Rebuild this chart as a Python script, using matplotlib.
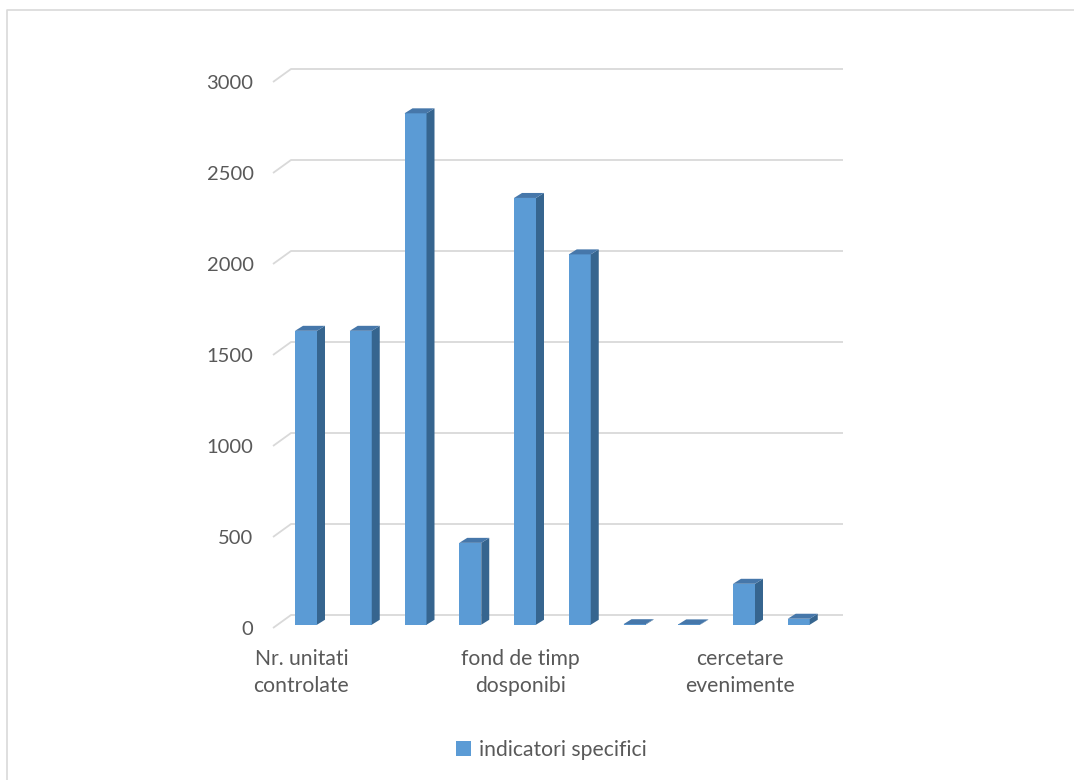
import matplotlib
matplotlib.use("Agg")
import matplotlib.pyplot as plt
from matplotlib.patches import Polygon, Patch
from matplotlib.lines import Line2D

# valori (coloane 3D, o singura serie)
values = [1615, 1615, 2810, 450, 2345, 2035, 3, 2, 225, 33]
cat_labels = ["Nr. unitati\ncontrolate", "fond de timp\ndosponibi", "cercetare\nevenimente"]
cat_label_idx = [0, 4, 8]     # Excel afiseaza doar fiecare a 4-a eticheta
y_ticks = [0, 500, 1000, 1500, 2000, 2500, 3000]
series_name = "indicatori specifici"

FRONT = "#5b9bd5"
SIDE = "#36658f"
TOP = "#4677aa"
GRID = "#d9d9d9"
TEXT = "#595959"
FONT = "Lato"

W, H = 1074, 780
fig = plt.figure(figsize=(W / 100, H / 100), dpi=100)
fig.patch.set_facecolor("white")

# axa in pixeli: stanga 273, dreapta 845, jos 628, sus 66
ax = fig.add_axes([273 / W, 1 - 628 / H, (845 - 273) / W, (628 - 66) / H])
ax.set_facecolor("none")
for s in ax.spines.values():
    s.set_visible(False)

px_x = 54.75          # pixeli per categorie
px_y = 546 / 3000     # pixeli per unitate
cat0 = 301.5          # pozitia primei categorii (px)
x0 = (273 - cat0) / px_x
ax.set_xlim(x0, x0 + (845 - 273) / px_x)
ax.set_ylim(0, (628 - 66) / px_y)

# adancimea peretelui din spate
gdx, gdy = 18 / px_x, 13 / px_y
x_back_end = (843 - cat0) / px_x
for v in y_ticks:
    ax.plot([x0, x0 + gdx, x_back_end], [v, v + gdy, v + gdy],
            color=GRID, lw=1.3, zorder=1, clip_on=False, solid_capstyle="butt")

# coloane 3D, asezate putin in adancime fata de planul frontal
depth = 0.25
ox, oy = depth * gdx, depth * gdy
bw = 22 / px_x
bdx, bdy = 8 / px_x, 5 / px_y
xs = [i + ox for i in range(len(values))]
ax.bar(xs, values, width=bw, bottom=oy, color=FRONT, zorder=3, linewidth=0)
for x, v in zip(xs, values):
    r, l = x + bw / 2, x - bw / 2
    t = v + oy
    ax.add_patch(Polygon([(r, oy), (r + bdx, oy + bdy), (r + bdx, t + bdy), (r, t)],
                         closed=True, color=SIDE, lw=0, zorder=3))
    ax.add_patch(Polygon([(l, t), (r, t), (r + bdx, t + bdy), (l + bdx, t + bdy)],
                         closed=True, color=TOP, lw=0, zorder=3))

ax.set_yticks(y_ticks)
ax.set_yticklabels([str(v) for v in y_ticks])
ax.set_xticks(cat_label_idx)
ax.set_xticklabels(cat_labels, linespacing=1.45)
ax.tick_params(axis="y", length=0, pad=14, labelsize=14.5, labelcolor=TEXT)
ax.tick_params(axis="x", length=0, pad=15, labelsize=15.2, labelcolor=TEXT)
for lab in ax.get_xticklabels() + ax.get_yticklabels():
    lab.set_fontfamily(FONT)

# legenda
handle = Patch(facecolor=FRONT, edgecolor="none")
leg = fig.legend([handle], [series_name], loc="center",
                 bbox_to_anchor=(551 / W, 1 - 750 / H), frameon=False,
                 handlelength=0.75, handleheight=0.75, handletextpad=0.35,
                 prop={"family": FONT, "size": 15.2})
for t in leg.get_texts():
    t.set_color(TEXT)

# chenarul graficului (doar stanga si sus vizibile)
fig.add_artist(Line2D([7 / W, 7 / W, 1], [0, 1 - 10 / H, 1 - 10 / H],
                      transform=fig.transFigure, color=GRID, lw=1.2))

fig.savefig("out.png", dpi=100, facecolor="white")
